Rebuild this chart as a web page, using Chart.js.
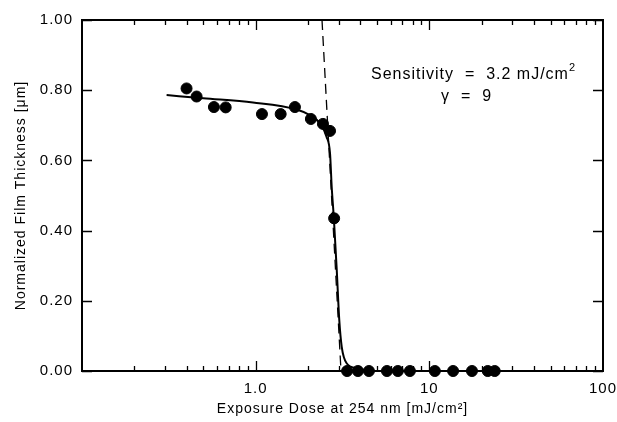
<!DOCTYPE html>
<html>
<head>
<meta charset="utf-8">
<script src="https://cdn.jsdelivr.net/npm/chart.js@4/dist/chart.umd.min.js"></script>
<style>
  html, body { margin: 0; padding: 0; background: #fff; }
  #wrap { width: 617px; height: 422px; position: relative; }
</style>
</head>
<body>
<div id="wrap"><canvas id="curve"></canvas></div>
<script>
// measured points (dose in mJ/cm2, normalized thickness)
const doseMeasured = [0.40, 0.457, 0.575, 0.672, 1.087, 1.393, 1.683, 2.08, 2.44, 2.68, 2.83,
                      3.36, 3.88, 4.49, 5.70, 6.59, 7.73, 10.76, 13.7, 17.6, 21.7, 23.8];
const thicknessMeasured = [0.805, 0.782, 0.752, 0.751, 0.732, 0.732, 0.752, 0.718, 0.704, 0.684, 0.435,
                           0, 0, 0, 0, 0, 0, 0, 0, 0, 0, 0];

// fitted curve
const doseFit = [0.307, 0.499, 0.965, 1.72, 2.05, 2.34, 2.56, 2.68, 2.74, 2.82, 2.93, 3.03, 3.13, 3.34, 3.81, 4.55];
const thicknessFit = [0.786, 0.777, 0.765, 0.745, 0.729, 0.706, 0.667, 0.62, 0.525, 0.435, 0.288, 0.145, 0.069, 0.022, 0.008, 0.0];

// contrast (gamma) line
const doseGamma = [2.41, 3.10];
const thicknessGamma = [1.0, 0.0];

const yTicks = [0, 0.2, 0.4, 0.6, 0.8, 1.0];
const xLabels = { 1: "1.0", 10: "10", 100: "100" };

const FONT = "'Liberation Sans', Arial, sans-serif";

function toPoints(xs, ys) {
    return xs.map((x, i) => ({ x: x, y: ys[i] }));
}

// the original lettering is loosely spaced
const spacingPlugin = {
    id: "spacing",
    beforeInit(chart) { chart.ctx.letterSpacing = "1px"; },
    beforeDraw(chart) { chart.ctx.letterSpacing = "1px"; }
};

// frame + inward ticks on all four sides, plus the annotation
const framePlugin = {
    id: "frame",
    afterDraw(chart) {
        const ctx = chart.ctx;
        const a = chart.chartArea;
        const xs = chart.scales.x;
        const ys = chart.scales.y;
        ctx.save();
        ctx.strokeStyle = "#000";
        ctx.lineWidth = 2;
        ctx.strokeRect(a.left, a.top, a.right - a.left, a.bottom - a.top);

        ctx.lineWidth = 1.3;
        ctx.beginPath();
        // x ticks
        [0.1, 1, 10].forEach(dec => {
            for (let k = 1; k <= 9; k++) {
                const v = dec * k;
                if (v <= 0.1) continue;
                const px = Math.round(xs.getPixelForValue(v)) + 0.5;
                const len = k === 1 ? 10 : 5;
                ctx.moveTo(px, a.bottom);
                ctx.lineTo(px, a.bottom - len);
                ctx.moveTo(px, a.top);
                ctx.lineTo(px, a.top + len);
            }
        });
        // y ticks
        yTicks.forEach(v => {
            const py = Math.round(ys.getPixelForValue(v)) + 0.5;
            ctx.moveTo(a.left, py);
            ctx.lineTo(a.left + 10, py);
            ctx.moveTo(a.right, py);
            ctx.lineTo(a.right - 10, py);
        });
        ctx.stroke();

        // annotation
        ctx.fillStyle = "#000";
        ctx.textBaseline = "alphabetic";
        ctx.textAlign = "left";
        ctx.letterSpacing = "1px";
        ctx.font = "16px " + FONT;
        const line1 = "Sensitivity  =  3.2 mJ/cm";
        ctx.fillText(line1, 371, 79);
        const w = ctx.measureText(line1).width;
        ctx.font = "11px " + FONT;
        ctx.fillText("2", 371 + w, 71);
        ctx.font = "16px " + FONT;
        ctx.fillText("\u03B3  =  9", 441, 101);
        ctx.restore();
    }
};

const chart = new Chart(document.getElementById("curve"), {
    type: "scatter",
    data: {
        datasets: [
            {
                label: "fit",
                type: "line",
                data: toPoints(doseFit, thicknessFit),
                borderColor: "#000",
                borderWidth: 2,
                pointRadius: 0,
                cubicInterpolationMode: "monotone",
                fill: false
            },
            {
                label: "gamma",
                type: "line",
                data: toPoints(doseGamma, thicknessGamma),
                borderColor: "#000",
                borderWidth: 1.3,
                borderDash: [10, 6],
                pointRadius: 0,
                fill: false
            },
            {
                label: "measured",
                data: toPoints(doseMeasured, thicknessMeasured),
                backgroundColor: "#000",
                borderColor: "#000",
                pointRadius: 5.5,
                pointHoverRadius: 5.5
            }
        ]
    },
    options: {
        responsive: true,
        maintainAspectRatio: false,
        animation: false,
        clip: false,
        layout: { padding: { left: 0, top: 20, right: 14, bottom: 0 } },
        plugins: {
            legend: { display: false },
            tooltip: { enabled: false }
        },
        scales: {
            x: {
                type: "logarithmic",
                min: 0.1,
                max: 100,
                grid: { display: false, drawTicks: false },
                border: { display: false },
                ticks: {
                    autoSkip: false,
                    maxRotation: 0,
                    padding: 9,
                    color: "#000",
                    font: { family: FONT, size: 15 },
                    callback: v => xLabels[v] || ""
                },
                title: {
                    display: true,
                    text: "Exposure Dose at 254 nm [mJ/cm\u00B2]",
                    color: "#000",
                    font: { family: FONT, size: 14 },
                    padding: { top: 0, bottom: 4 }
                },
                afterFit: s => {
                    s.height = 51;
                    s.paddingLeft = 0;
                    s.paddingRight = 0;
                }
            },
            y: {
                min: 0,
                max: 1,
                grid: { display: false, drawTicks: false },
                border: { display: false },
                ticks: {
                    stepSize: 0.2,
                    padding: 9,
                    color: "#000",
                    font: { family: FONT, size: 15 },
                    callback: v => v.toFixed(2)
                },
                title: {
                    display: true,
                    text: "Normalized Film Thickness [\u03BCm]",
                    color: "#000",
                    font: { family: FONT, size: 14 },
                    padding: { top: 13, bottom: 0 }
                },
                afterFit: s => {
                    s.width = 82;
                    s.paddingTop = 0;
                    s.paddingBottom = 0;
                }
            }
        }
    },
    plugins: [spacingPlugin, framePlugin]
});
</script>
</body>
</html>
